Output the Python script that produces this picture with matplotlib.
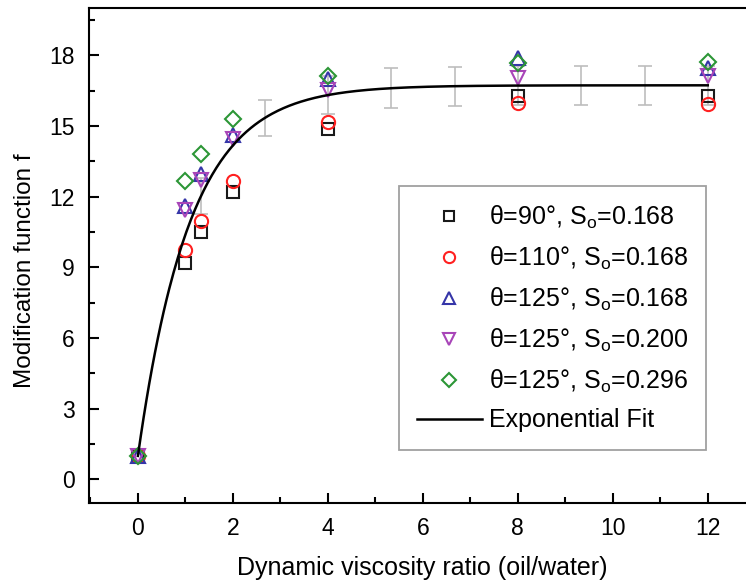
import numpy as np
import matplotlib
matplotlib.use('Agg')
import matplotlib.pyplot as plt
from matplotlib.ticker import MultipleLocator

plt.rcParams['font.family'] = ['Liberation Sans', 'DejaVu Sans']
plt.rcParams['mathtext.default'] = 'regular'

# viscosity ratio (oil/water)
visc = [0, 1, 1.33, 2, 4, 8, 12]
f_90_168 = [1.0, 9.17, 10.48, 12.21, 14.87, 16.27, 16.27]
f_110_168 = [1.0, 9.72, 10.98, 12.67, 15.17, 15.98, 15.93]
f_125_168 = [1.0, 11.6, 12.95, 14.6, 16.98, 17.87, 17.45]
f_125_200 = [1.0, 11.45, 12.7, 14.45, 16.52, 17.03, 17.11]
f_125_296 = [1.0, 12.67, 13.82, 15.29, 17.11, 17.66, 17.7]

labels = ['θ=90°, S$_o$=0.168', 'θ=110°, S$_o$=0.168', 'θ=125°, S$_o$=0.168',
          'θ=125°, S$_o$=0.200', 'θ=125°, S$_o$=0.296']

# exponential fit f = A - (A - f0) * exp(-x / tau)
fit_A = 16.72
fit_f0 = 1.0
fit_tau = 1.1

# error bars on the fit
err_x = [1.33, 2.67, 4, 5.33, 6.67, 8, 9.33, 10.67, 12]
err_size = [0.78, 0.78, 0.8, 0.85, 0.83, 0.82, 0.82, 0.82, 0.82]


def fit(x):
    return fit_A - (fit_A - fit_f0) * np.exp(-np.asarray(x) / fit_tau)


fig = plt.figure(figsize=(7.46, 5.86), dpi=100)
ax = fig.add_axes([89 / 746, 83 / 586, 671 / 746, 495 / 586])

ax.errorbar(err_x, fit(err_x), yerr=err_size, fmt='none', ecolor='#bdbdbd',
            elinewidth=1.2, capsize=4.7, capthick=1.2, zorder=1)

series = [f_90_168, f_110_168, f_125_168, f_125_200, f_125_296]
markers = ['s', 'o', '^', 'v', 'D']
colors = ['#1a1a1a', '#ff2020', '#3535a8', '#a845b8', '#2c9636']
sizes = [8.5, 9.5, 10, 10, 8.5]
handles = []
for ys, m, c, s, lab in zip(series, markers, colors, sizes, labels):
    h, = ax.plot(visc, ys, linestyle='none', marker=m, ms=s, mfc='none',
                 mec=c, mew=1.5, label=lab, zorder=2)
    handles.append(h)

xs = np.linspace(0, 12, 400)
hf, = ax.plot(xs, fit(xs), color='black', lw=1.8, label='Exponential Fit', zorder=3)
handles.append(hf)

ax.set_xlim(-1.03, 13.1)
ax.set_ylim(-1, 20)
ax.xaxis.set_major_locator(MultipleLocator(2))
ax.xaxis.set_minor_locator(MultipleLocator(1))
ax.yaxis.set_major_locator(MultipleLocator(3))
ax.yaxis.set_minor_locator(MultipleLocator(1.5))
ax.tick_params(which='both', direction='in', width=1.5, labelsize=16.5)
ax.tick_params(which='major', length=7)
ax.tick_params(which='minor', length=4)
ax.tick_params(axis='x', pad=10)
ax.tick_params(axis='y', pad=10)
for sp in ax.spines.values():
    sp.set_linewidth(1.5)

fig.text(422 / 746, 1 - 568 / 586, 'Dynamic viscosity ratio (oil/water)',
         ha='center', va='center', fontsize=18)
fig.text(25 / 746, 1 - 271 / 586, 'Modification function f', rotation=90,
         ha='center', va='center', fontsize=17.5)

leg = ax.legend(handles=handles, loc='upper left',
                bbox_to_anchor=(399 / 746, 1 - 186 / 586),
                bbox_transform=fig.transFigure, borderaxespad=0,
                fontsize=18, fancybox=False, framealpha=1, edgecolor='#a0a0a0',
                handlelength=2.6, handletextpad=0.3, borderpad=0.7,
                labelspacing=0.55, markerscale=0.85)
leg.get_frame().set_linewidth(1.3)

fig.savefig('out.png', dpi=100)
